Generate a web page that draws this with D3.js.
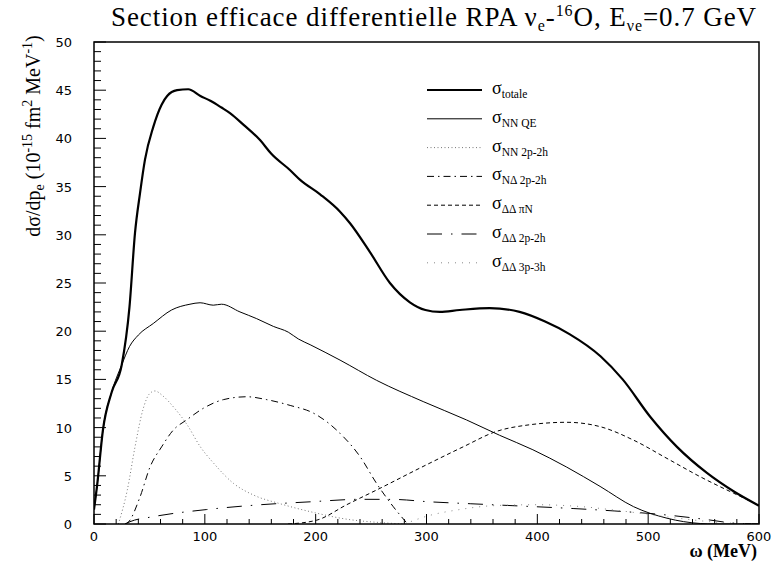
<!DOCTYPE html>
<html><head><meta charset="utf-8">
<script src="https://cdn.jsdelivr.net/npm/d3@7"></script>
<style>body{margin:0;background:#fff}svg{display:block}</style>
</head><body><svg id="c" width="775" height="566"></svg>
<script>
// ---- data ----
const xTicks = [0,100,200,300,400,500,600];
const yTicks = [0,5,10,15,20,25,30,35,40,45,50];

const totW = [0,3,8,16,25,32,37,41.5,46,53.5,61,66,75,85,96,105,115,123,135,150,160,177,186,204,222,231,249,267,285,299,312,330,357,384,407,429,457,477,502,526,553,577,600];
const totV = [1.5,4.2,9.7,13.7,16.5,22.5,30.2,34.3,37.8,41.2,43.5,44.4,45.0,45.1,44.4,43.9,43.2,42.6,41.4,39.8,38.4,36.7,35.7,34.2,32.4,31.2,28.2,25.0,23.0,22.2,22.0,22.2,22.4,22.0,21.0,19.7,17.4,15.0,11.1,8.0,5.3,3.4,1.9];

const qeW = [0,3,8,16,25,32,40,53.5,70,86.6,95.7,107.6,115,131.7,146.8,161.8,175.3,184.3,195,222,255,297,336,366,396,426.5,456.6,486.8,517,547,560,600];
const qeV = [1.5,4.2,9.7,13.7,16.5,18.4,19.6,20.8,22.2,22.8,22.95,22.7,22.8,22.0,21.3,20.5,19.9,19.2,18.6,17.0,14.9,12.7,10.8,9.2,7.7,5.9,3.9,1.8,0.6,0.05,0,0];

const nn2W = [22,30,37,44,50,55,62,72,84,96,108,126,144,168,198,228,258,280];
const nn2V = [0,3.5,8.0,11.8,13.5,13.8,13.3,12.1,10.3,8.0,6.3,4.2,3.0,2.1,1.2,0.5,0.15,0];

const ndW = [28,31,41.5,50.5,61,71.6,83.6,98.6,116.7,137.8,155.9,177,198,222,240,255,270,283];
const ndV = [0,0.2,2.8,5.9,8.0,9.75,10.8,12.0,12.9,13.2,12.9,12.3,11.5,9.4,7.0,4.2,1.8,0];

const ddpiW = [175,201,228,258,294,333,363,393.5,426.5,456.6,486.8,517,547,577,600];
const ddpiV = [0,0.4,2.0,3.7,5.8,8.0,9.6,10.3,10.55,10.1,8.7,6.8,4.9,3.2,1.95];

const dd2W = [28,32.5,53.5,101.7,146.8,195,240,270,303,340,378,433,470,517,550,577,600];
const dd2V = [0,0.24,0.76,1.5,1.97,2.3,2.56,2.55,2.3,2.1,1.9,1.6,1.35,0.93,0.5,0.1,0];

const dd3W = [280,300,330,360,400,440,480,520,560,600];
const dd3V = [0,0.8,1.5,1.9,2.0,1.8,1.3,0.7,0.2,0];

const seriesNames = ["totale","NN QE","NN 2p-2h","N\u0394 2p-2h","\u0394\u0394 \u03c0N","\u0394\u0394 2p-2h","\u0394\u0394 3p-3h"];

// ---- styles ----
const styles = [
  {w:totW, v:totV, sw:2.2, dash:null, col:"#000"},
  {w:qeW, v:qeV, sw:1, dash:null, col:"#000"},
  {w:nn2W, v:nn2V, sw:1, dash:"1,2.5", col:"#777"},
  {w:ndW, v:ndV, sw:1, dash:"7,4,1.5,4", col:"#000"},
  {w:ddpiW, v:ddpiV, sw:1, dash:"4,3", col:"#000"},
  {w:dd2W, v:dd2V, sw:1, dash:"15,9,1.5,9", col:"#000"},
  {w:dd3W, v:dd3V, sw:1, dash:"1,6", col:"#888"}
];

const svg = d3.select("#c");
const L=94, R=759, T=42, B=524;
const x = d3.scaleLinear().domain([0,600]).range([L,R]);
const y = d3.scaleLinear().domain([0,50]).range([B,T]);

svg.append("defs").append("clipPath").attr("id","pc").append("rect")
  .attr("x",L).attr("y",T-2).attr("width",R-L).attr("height",B-T+2);

// ticks
const g = svg.append("g");
g.selectAll(".xt").data(x.ticks(30)).join("line")
  .attr("x1",d=>x(d)).attr("x2",d=>x(d)).attr("y1",B).attr("y2",d=>B-(d%100===0?10:5))
  .attr("stroke","#000").attr("stroke-width",1);
g.selectAll(".yt").data(y.ticks(50)).join("line")
  .attr("y1",d=>y(d)).attr("y2",d=>y(d)).attr("x1",L).attr("x2",d=>L+(d%5===0?12:7))
  .attr("stroke","#000").attr("stroke-width",1);

g.selectAll(".xl").data(xTicks).join("text")
  .attr("x",d=>x(d)).attr("y",B+17).attr("text-anchor","middle")
  .attr("font-family","'DejaVu Sans', sans-serif").attr("font-size",13)
  .attr("fill","#000").text(d=>d);
g.selectAll(".yl").data(yTicks).join("text")
  .attr("x",72).attr("y",d=>y(d)+5).attr("text-anchor","end")
  .attr("font-family","'DejaVu Sans', sans-serif").attr("font-size",13)
  .attr("fill","#000").text(d=>d);

// curves
const line = d3.line().x(d=>x(d[0])).y(d=>y(d[1])).curve(d3.curveMonotoneX);
const cg = svg.append("g").attr("clip-path","url(#pc)");
styles.forEach(s=>{
  const pts = s.w.map((w,i)=>[w,s.v[i]]);
  cg.append("path").attr("d",line(pts)).attr("fill","none")
    .attr("stroke",s.col).attr("stroke-width",s.sw)
    .attr("stroke-dasharray",s.dash).attr("stroke-linejoin","round");
});

// frame
svg.append("rect").attr("x",L).attr("y",T).attr("width",R-L).attr("height",B-T)
  .attr("fill","none").attr("stroke","#000").attr("stroke-width",1.5);

// legend
const lg = svg.append("g");
const ly0 = 90, ldy = 28.8;
styles.forEach((s,i)=>{
  const yy = ly0+i*ldy;
  lg.append("line").attr("x1",427).attr("x2",482).attr("y1",yy).attr("y2",yy)
    .attr("stroke",s.col).attr("stroke-width",s.sw).attr("stroke-dasharray",s.dash);
  const t = lg.append("text").attr("x",492).attr("y",yy+4)
    .attr("font-family","'Liberation Serif', serif").attr("fill","#000");
  t.append("tspan").attr("font-size",18).text("\u03c3");
  t.append("tspan").attr("font-size",11.5).attr("dy",4).text(seriesNames[i]);
});

// title
const serif = "'Liberation Serif', 'Times New Roman', serif";
const tt = svg.append("text").attr("x",434).attr("y",26).attr("text-anchor","middle")
  .attr("font-family",serif).attr("font-size",27).attr("fill","#000");
tt.append("tspan").text("Section efficace differentielle RPA \u03bd");
tt.append("tspan").attr("font-size",16).attr("dy",5).text("e");
tt.append("tspan").attr("dy",-5).text("-");
tt.append("tspan").attr("font-size",16).attr("dy",-10).text("16");
tt.append("tspan").attr("dy",10).text("O, E");
tt.append("tspan").attr("font-size",16).attr("dy",5).text("\u03bde");
tt.append("tspan").attr("dy",-5).text("=0.7 GeV");
// stretch to the reference width
const tw = tt.node().getComputedTextLength();
const nChars = tt.text().length;
tt.attr("letter-spacing", Math.max(-1,(646 - tw)/nChars));

// y label
const yl = svg.append("text").attr("transform","translate(40,136) rotate(-90)")
  .attr("text-anchor","middle").attr("font-family",serif).attr("font-size",20).attr("fill","#000");
yl.append("tspan").text("d\u03c3/dp");
yl.append("tspan").attr("font-size",14).attr("dy",4).text("e");
yl.append("tspan").attr("dy",-4).text(" (10");
yl.append("tspan").attr("font-size",14).attr("dy",-8).text("-15");
yl.append("tspan").attr("dy",8).text(" fm");
yl.append("tspan").attr("font-size",14).attr("dy",-8).text("2");
yl.append("tspan").attr("dy",8).text(" MeV");
yl.append("tspan").attr("font-size",14).attr("dy",-8).text("-1");
yl.append("tspan").attr("dy",8).text(")");

// x label
svg.append("text").attr("x",757).attr("y",557).attr("text-anchor","end")
  .attr("font-family",serif).attr("font-size",18).attr("font-weight","bold").attr("fill","#000")
  .text("\u03c9 (MeV)");
</script></body></html>
